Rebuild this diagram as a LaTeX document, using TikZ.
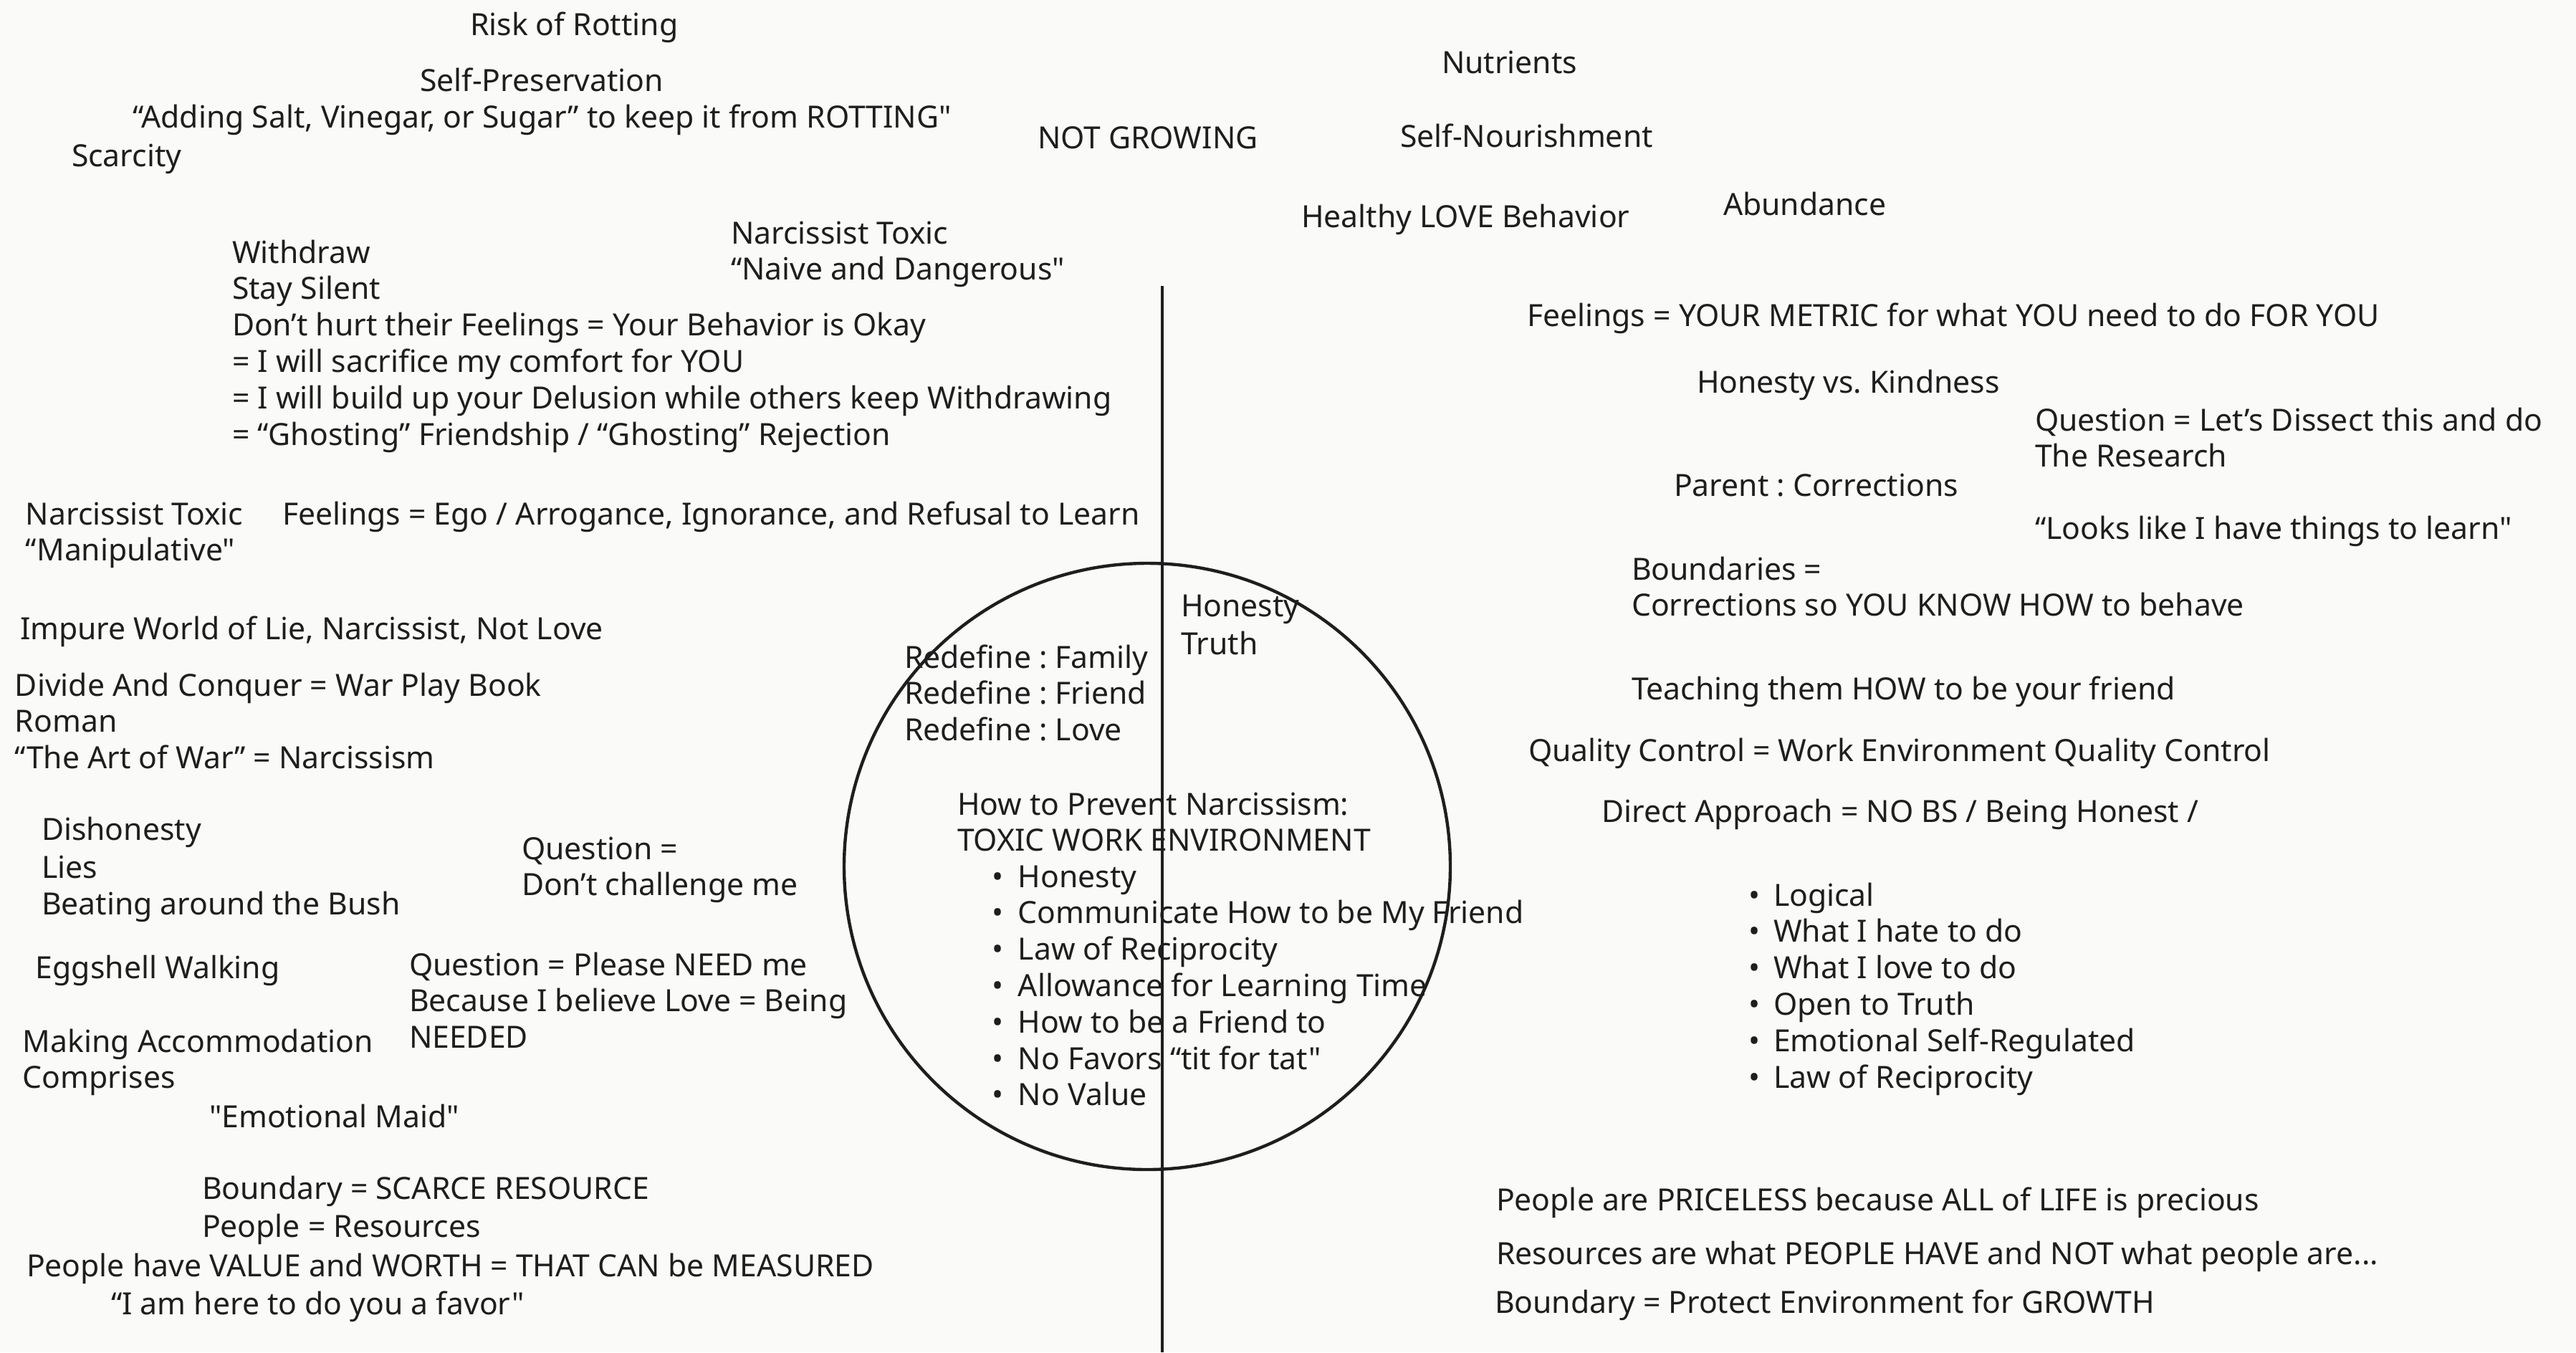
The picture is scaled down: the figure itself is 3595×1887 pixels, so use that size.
\documentclass[tikz,border=0pt]{standalone}
\usepackage{fontspec}
\newfontfamily\nf{Noto Sans}
\definecolor{bg}{RGB}{250,250,248}
\definecolor{ink}{RGB}{30,30,30}
\newcommand\fs{\nf\fontsize{10.67pt}{12.7pt}\selectfont\frenchspacing}
\newcommand\ml[1]{\begin{tabular}[t]{@{}l@{}}#1\end{tabular}}
\newcommand\bla{\makebox[9.25pt][l]{•}}
\newcommand\blb{\makebox[8.75pt][l]{•}}
\begin{document}
\begin{tikzpicture}[x=0.25pt,y=-0.25pt,
  t/.style={anchor=base west,inner sep=0pt,outer sep=0pt,font=\fs,text=ink},
  stroke/.style={draw=ink,line width=1.1pt}]
\fill[bg] (0,0) rectangle (3595,1887);
\useasboundingbox (0,0) rectangle (3595,1887);
% circle and divider
\node[circle,stroke,minimum size=211.5pt,inner sep=0pt] (ring) at (1601,1209) {};
\coordinate (ltop) at (1622,399);
\coordinate (lbot) at (1622,1887);
% left / top texts
\node[t] (risk) at (656,49) {Risk of Rotting};
\node[t] (selfpres) at (586,127) {Self-Preservation};
\node[t] (salt) at (185,178) {“Adding Salt, Vinegar, or Sugar” to keep it from ROTTING"};
\node[t] (scarcity) at (100,232) {Scarcity};
\node[t] (notgrow) at (1448,207) {NOT GROWING};
\node[t] (nutr) at (2012,102) {Nutrients};
\node[t] (selfnour) at (1954,205) {Self-Nourishment};
\node[t] (healthy) at (1816,317) {Healthy LOVE Behavior};
\node[t] (abund) at (2405,300) {Abundance};
\node[t] (naive) at (1020,340) {\ml{Narcissist Toxic\\“Naive and Dangerous"}};
\node[t] (withdraw) at (324,367) {\ml{Withdraw\\Stay Silent\\Don’t hurt their Feelings = Your Behavior is Okay\\= I will sacrifice my comfort for YOU\\= I will build up your Delusion while others keep Withdrawing\\= “Ghosting” Friendship / “Ghosting” Rejection}};
\node[t] (manip) at (36,732) {\ml{Narcissist Toxic\\“Manipulative"}};
\node[t] (ego) at (394,732) {Feelings = Ego / Arrogance, Ignorance, and Refusal to Learn};
\node[t] (impure) at (28,892) {Impure World of Lie, Narcissist, Not Love};
\node[t] (divide) at (21,971) {\ml{Divide And Conquer = War Play Book\\Roman\\“The Art of War” = Narcissism}};
\node[t] (dishon) at (58,1172) {\ml{Dishonesty\\[0.75pt]Lies\\Beating around the Bush}};
\node[t] (qchal) at (728,1199) {\ml{Question =\\Don’t challenge me}};
\node[t] (egg) at (50,1365) {Eggshell Walking};
\node[t] (qneed) at (571,1361) {\ml{Question = Please NEED me\\Because I believe Love = Being\\NEEDED}};
\node[t] (accom) at (32,1468) {\ml{Making Accommodation\\Comprises}};
\node[t] (maid) at (292,1573) {"Emotional Maid"};
\node[t] (scarce) at (282,1673) {\ml{Boundary = SCARCE RESOURCE\\[0.75pt]People = Resources}};
\node[t] (value) at (37,1781) {People have VALUE and WORTH = THAT CAN be MEASURED};
\node[t] (favor) at (155,1834) {“I am here to do you a favor"};
% inside the circle
\node[t] (redefine) at (1262,932) {\ml{Redefine : Family\\Redefine : Friend\\Redefine : Love}};
\node[t] (honesty) at (1648,860) {\ml{Honesty\\[0.75pt]Truth}};
\node[t] (prevent) at (1336,1137) {\ml{How to Prevent Narcissism:\\TOXIC WORK ENVIRONMENT}};
\node[t] (plist) at (1384,1238) {\ml{\bla Honesty\\\bla Communicate How to be My Friend\\\bla Law of Reciprocity\\\bla Allowance for Learning Time\\\bla How to be a Friend to\\\bla No Favors “tit for tat"\\\bla No Value}};
% right side
\node[t] (metric) at (2131,455) {Feelings = YOUR METRIC for what YOU need to do FOR YOU};
\node[t] (honkind) at (2368,548) {Honesty vs. Kindness};
\node[t] (dissect) at (2840,601) {\ml{Question = Let’s Dissect this and do\\The Research}};
\node[t] (parent) at (2336,692) {Parent : Corrections};
\node[t] (looks) at (2840,752) {“Looks like I have things to learn"};
\node[t] (bounds) at (2277,809) {\ml{Boundaries =\\Corrections so YOU KNOW HOW to behave}};
\node[t] (teach) at (2277,976) {Teaching them HOW to be your friend};
\node[t] (quality) at (2133,1062) {Quality Control = Work Environment Quality Control};
\node[t] (direct) at (2235,1147) {Direct Approach = NO BS / Being Honest /};
\node[t] (rlist) at (2440,1264) {\ml{\blb Logical\\\blb What I hate to do\\\blb What I love to do\\\blb Open to Truth\\\blb Emotional Self-Regulated\\\blb Law of Reciprocity}};
\node[t] (priceless) at (2088,1689) {People are PRICELESS because ALL of LIFE is precious};
\node[t] (resources) at (2088,1764) {Resources are what PEOPLE HAVE and NOT what people are...};
\node[t] (protect) at (2086,1832) {Boundary = Protect Environment for GROWTH};
\draw[stroke] (ltop) -- (lbot);
\end{tikzpicture}
\end{document}
